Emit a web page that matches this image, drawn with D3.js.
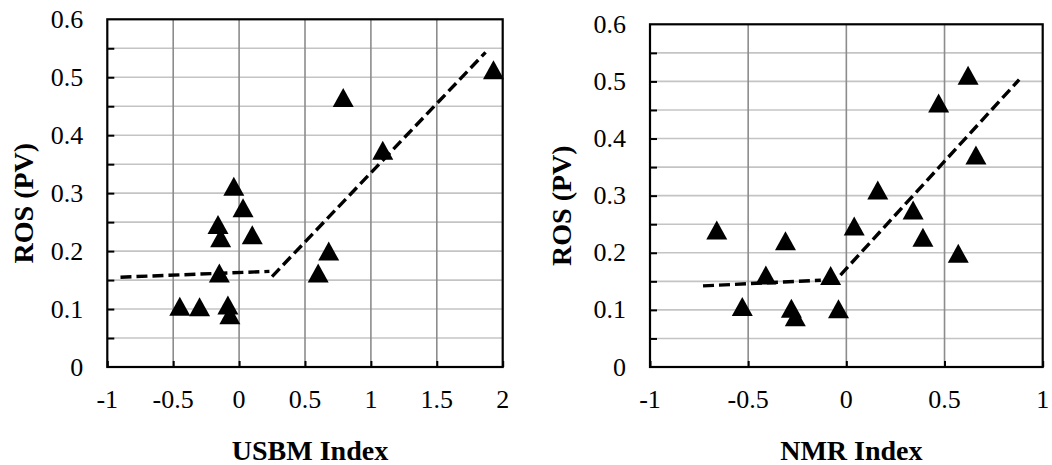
<!DOCTYPE html>
<html>
<head>
<meta charset="utf-8">
<script src="https://cdn.jsdelivr.net/npm/d3@7"></script>
<style>
  body { margin: 0; background: #fff; }
</style>
</head>
<body>
<svg id="chart" width="1052" height="465" font-family="Liberation Serif, Times New Roman, DejaVu Serif, serif"></svg>
<script>
// data
const usbmX = [-0.45, -0.30, -0.085, -0.07, -0.04, 0.03, -0.16, -0.14, 0.10, -0.15, 0.60, 0.68, 0.79, 1.09, 1.93];
const usbmY = [0.105, 0.104, 0.107, 0.090, 0.312, 0.275, 0.246, 0.223, 0.228, 0.162, 0.162, 0.200, 0.465, 0.374, 0.513];
const nmrX = [-0.66, -0.53, -0.41, -0.31, -0.28, -0.26, -0.08, -0.04, 0.04, 0.16, 0.34, 0.39, 0.47, 0.57, 0.62, 0.66];
const nmrY = [0.240, 0.106, 0.161, 0.221, 0.103, 0.088, 0.160, 0.102, 0.247, 0.310, 0.275, 0.227, 0.462, 0.199, 0.511, 0.371];

// piecewise fits (dashed)
const usbmFitLow = [[-0.90, 0.155], [0.23, 0.165]];
const usbmFitHigh = [[0.25, 0.156], [1.87, 0.543]];
const nmrFitLow = [[-0.73, 0.142], [-0.13, 0.152]];
const nmrFitHigh = [[-0.03, 0.161], [0.88, 0.503]];

const yTicks = [0, 0.1, 0.2, 0.3, 0.4, 0.5, 0.6];
const yGrid = [0.05, 0.1, 0.15, 0.2, 0.25, 0.3, 0.35, 0.4, 0.45, 0.5, 0.55];
const usbmTicks = [-1, -0.5, 0, 0.5, 1, 1.5, 2];
const nmrTicks = [-1, -0.5, 0, 0.5, 1];

const svg = d3.select('#chart');
const serif = "'Liberation Serif', 'Times New Roman', serif";

/**
 * one scatter panel
 * */
function panel(opt) {
  const { xs, ys, fits, xDomain, xTicks, box, xTitle, yTitleX } = opt;
  const x = d3.scaleLinear().domain(xDomain).range([box.left, box.right]);
  const y = d3.scaleLinear().domain([0, 0.6]).range([box.bottom, box.top]);
  const g = svg.append('g');

  // grid
  g.append('g').selectAll('line')
    .data(yGrid)
    .enter()
    .append('line')
    .attr('x1', box.left).attr('x2', box.right)
    .attr('y1', d => y(d)).attr('y2', d => y(d))
    .attr('stroke', '#c4c4c4')
    .attr('stroke-width', 1.6);
  g.append('g').selectAll('line')
    .data(xTicks.slice(1, -1))
    .enter()
    .append('line')
    .attr('x1', d => x(d)).attr('x2', d => x(d))
    .attr('y1', box.top).attr('y2', box.bottom)
    .attr('stroke', '#8c8c8c')
    .attr('stroke-width', 1.6);

  // inside ticks
  const yAxis = d3.axisLeft(y).tickValues(yGrid).tickSize(-7).tickFormat('');
  const ya = g.append('g').attr('transform', `translate(${box.left},0)`).call(yAxis);
  ya.select('.domain').remove();
  ya.selectAll('.tick line').attr('stroke', '#000').attr('stroke-width', 2);
  const xAxis = d3.axisBottom(x).tickValues(xTicks).tickSize(-6).tickFormat('');
  const xa = g.append('g').attr('transform', `translate(0,${box.bottom})`).call(xAxis);
  xa.select('.domain').remove();
  xa.selectAll('.tick line').attr('stroke', '#000').attr('stroke-width', 2);

  // frame
  g.append('rect')
    .attr('x', box.left).attr('y', box.top)
    .attr('width', box.right - box.left)
    .attr('height', box.bottom - box.top)
    .attr('fill', 'none')
    .attr('stroke', '#000')
    .attr('stroke-width', 2.2);

  // tick labels
  g.append('g').selectAll('text')
    .data(yTicks)
    .enter()
    .append('text')
    .attr('x', box.left - 24)
    .attr('y', d => y(d))
    .attr('dy', '0.33em')
    .attr('text-anchor', 'end')
    .style('font-family', serif)
    .style('font-size', '26px')
    .text(d => d);
  g.append('g').selectAll('text')
    .data(xTicks)
    .enter()
    .append('text')
    .attr('x', d => x(d))
    .attr('y', box.bottom + 41)
    .attr('text-anchor', 'middle')
    .style('font-family', serif)
    .style('font-size', '26px')
    .text(d => d);

  // fitted segments
  const line = d3.line().x(d => x(d[0])).y(d => y(d[1]));
  g.append('g').selectAll('path')
    .data(fits)
    .enter()
    .append('path')
    .attr('d', line)
    .attr('fill', 'none')
    .attr('stroke', '#000')
    .attr('stroke-width', 3.4)
    .attr('stroke-dasharray', '11,5');

  // triangle markers
  g.append('g').selectAll('path')
    .data(xs.map((v, i) => [v, ys[i]]))
    .enter()
    .append('path')
    .attr('transform', d => `translate(${x(d[0])},${y(d[1])})`)
    .attr('d', 'M0,-9.5L10.5,9.5L-10.5,9.5Z')
    .attr('fill', '#000');

  // titles
  g.append('text')
    .attr('x', (box.left + box.right) / 2 + 5)
    .attr('y', 460)
    .attr('text-anchor', 'middle')
    .style('font-family', serif)
    .style('font-size', '28px')
    .style('font-weight', 'bold')
    .text(xTitle);
  g.append('text')
    .attr('transform', `translate(${yTitleX},${(box.top + box.bottom) / 2 + 10}) rotate(-90)`)
    .attr('text-anchor', 'middle')
    .style('font-family', serif)
    .style('font-size', '28px')
    .style('font-weight', 'bold')
    .text('ROS (PV)');
}

panel({
  xs: usbmX,
  ys: usbmY,
  fits: [usbmFitLow, usbmFitHigh],
  xDomain: [-1, 2],
  xTicks: usbmTicks,
  box: { left: 107.3, right: 502.7, top: 19.3, bottom: 367 },
  xTitle: 'USBM Index',
  yTitleX: 33
});
panel({
  xs: nmrX,
  ys: nmrY,
  fits: [nmrFitLow, nmrFitHigh],
  xDomain: [-1, 1],
  xTicks: nmrTicks,
  box: { left: 650, right: 1042.7, top: 24.3, bottom: 367 },
  xTitle: 'NMR Index',
  yTitleX: 571
});
</script>
</body>
</html>
